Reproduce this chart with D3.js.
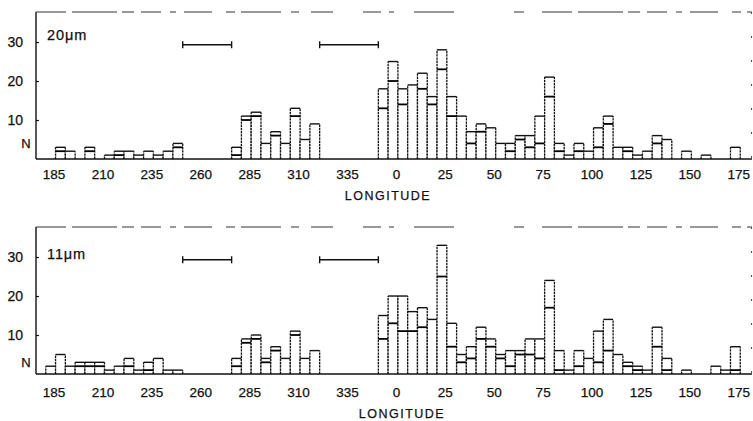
<!DOCTYPE html>
<html><head><meta charset="utf-8">
<script src="https://cdn.jsdelivr.net/npm/d3@7/dist/d3.min.js"></script>
<style>
html,body{margin:0;padding:0;background:#fff;}
svg{display:block;}
text{font-family:"Liberation Sans",Arial,sans-serif;fill:#111;stroke:#111;stroke-width:0.25px;}
</style></head>
<body>
<svg id="chart" width="753" height="421"></svg>
<script>
// 5-degree longitude bins, starting at 180 and wrapping through 360/0 to 175
const binStartLon = d3.range(72).map(j => (180 + 5 * j) % 360);
const xTickLabels = ["185","210","235","260","285","310","335","0","25","50","75","100","125","150","175"];
const yTicks = [10, 20, 30];

// 20 micron panel: total count (outer box) and lower level (solid inner line)
const total20 = [0,3,2,0,3,0,1,2,2,1,2,1,2,4,0,0,0,0,0,3,11,12,4,7,4,13,5,9,0,0,0,0,0,0,
  18,25,18,19,22,16,28,16,11,7,9,8,4,4,6,6,11,21,4,1,4,2,8,11,3,3,1,2,6,5,0,2,0,1,0,0,3,0];
const lower20 = [0,2,2,0,2,0,1,1,2,1,2,1,2,3,0,0,0,0,0,1,10,11,4,6,4,11,5,9,0,0,0,0,0,0,
  13,20,14,19,18,14,23,11,11,4,7,8,4,2,5,3,4,16,2,1,2,2,3,9,3,2,1,2,4,5,0,2,0,1,0,0,3,0];

// 11 micron panel
const total11 = [2,5,2,3,3,3,1,2,4,1,3,4,1,1,0,0,0,0,0,4,9,10,4,7,4,11,4,6,0,0,0,0,0,0,
  15,20,20,16,17,14,33,13,5,7,12,9,5,6,6,9,9,24,6,1,6,4,11,14,5,3,2,1,12,4,0,1,0,0,2,1,7,0];
const lower11 = [2,5,2,2,2,2,1,2,2,1,1,4,1,1,0,0,0,0,0,2,8,9,3,6,4,10,4,6,0,0,0,0,0,0,
  9,13,11,11,12,14,25,7,3,4,9,7,4,2,5,5,4,17,1,1,2,4,3,6,5,2,1,1,7,1,0,1,0,0,2,1,1,0];

// longitude ranges marked with horizontal bars (no coverage)
const gapRanges = [[250, 275], [320, 350]];
const gapLevel = 29.3;

const svg = d3.select("#chart");
const toT = lon => ((lon - 185) % 360 + 360) % 360; // offset from 185
const binT = j => 5 * j - 5;

const x = d3.scaleLinear().domain([-10, 356]).range([36, 752]);

const panels = [
  {label: "20\u03bcm", total: total20, lower: lower20, y0: 159, yTop: 12, labelY: 40, nDy: 16, tickPad: 10, titleX: 388, titleY: 200},
  {label: "11\u03bcm", total: total11, lower: lower11, y0: 374, yTop: 227, labelY: 259, nDy: 12, tickPad: 13, titleX: 402, titleY: 418}
];

panels.forEach(p => {
  const y = d3.scaleLinear().domain([0, 37.7]).range([p.y0, p.yTop]);
  const g = svg.append("g");

  // bars
  const bars = g.append("g");
  p.total.forEach((tot, j) => {
    if (tot <= 0) return;
    const x0 = x(binT(j)), x1 = x(binT(j) + 5);
    const low = p.lower[j];
    const bb = bars.append("g");
    bb.append("rect").attr("x", x0).attr("y", y(tot)).attr("width", x1 - x0).attr("height", y(0) - y(tot))
      .attr("fill", "#fff");
    [x0, x1].forEach(xx => {
      bb.append("line").attr("x1", xx).attr("x2", xx).attr("y1", y(0)).attr("y2", y(tot))
        .attr("stroke", "#111").attr("stroke-width", 1.3).attr("stroke-dasharray", "2.4,0.8");
    });
    bb.append("line").attr("x1", x0).attr("x2", x1).attr("y1", y(tot)).attr("y2", y(tot))
      .attr("stroke", "#111").attr("stroke-width", 1.4);
    if (low > 0 && low < tot) {
      bb.append("line").attr("x1", x0).attr("x2", x1).attr("y1", y(low)).attr("y2", y(low))
        .attr("stroke", "#000").attr("stroke-width", 1.8);
    }
  });

  // frame
  g.append("line").attr("x1", 36).attr("x2", 36).attr("y1", p.yTop).attr("y2", p.y0)
    .attr("stroke", "#111").attr("stroke-width", 1.4);
  g.append("line").attr("x1", 36).attr("x2", 752).attr("y1", p.yTop).attr("y2", p.yTop)
    .attr("stroke", "#333").attr("stroke-width", 1.2)
    .attr("stroke-dasharray", "30,6,45,5,12,7,20,9,6,8,28,14,9,6,40,10,8,12,22,30,18,8,5,20,40,60,10,18");
  g.append("line").attr("x1", 751.5).attr("x2", 751.5).attr("y1", p.yTop).attr("y2", p.y0)
    .attr("stroke", "#555").attr("stroke-width", 1.1).attr("stroke-dasharray", "2,22");
  g.append("line").attr("x1", 36).attr("x2", 752).attr("y1", p.y0).attr("y2", p.y0)
    .attr("stroke", "#111").attr("stroke-width", 1.7);

  // y axis
  const ya = g.append("g").attr("transform", "translate(36,0)")
    .call(d3.axisLeft(y).tickValues(yTicks).tickSizeInner(-3).tickSizeOuter(0).tickPadding(13).tickFormat(d3.format("d")));
  ya.select(".domain").remove();
  ya.selectAll("line").attr("stroke", "#111").attr("stroke-width", 1.2);
  ya.selectAll("text").attr("font-size", 14).attr("font-family", "Liberation Sans, Arial, sans-serif").attr("fill", "#111");
  g.append("text").attr("x", 26).attr("y", p.y0 - p.nDy).attr("dy", "0.35em").attr("text-anchor", "middle")
    .attr("font-size", 13).text("N");

  // x axis
  const xa = g.append("g").attr("transform", `translate(0,${p.y0})`)
    .call(d3.axisBottom(x).tickValues(xTickLabels.map(s => toT(+s))).tickSize(0).tickPadding(p.tickPad)
      .tickFormat((d, i) => xTickLabels[i]));
  xa.select(".domain").remove();
  xa.selectAll("text").attr("font-size", 13.5).attr("font-family", "Liberation Sans, Arial, sans-serif")
    .attr("fill", "#111").attr("dx", "-2");

  g.append("text").attr("x", p.titleX).attr("y", p.titleY).attr("text-anchor", "middle")
    .attr("font-size", 12.5).attr("letter-spacing", 1.5).text("LONGITUDE");

  // panel label
  g.append("text").attr("x", 47).attr("y", p.labelY).attr("font-size", 14.5).attr("letter-spacing", 0.9).text(p.label);

  // gap range markers
  gapRanges.forEach(r => {
    const a = x(toT(r[0])), b = x(toT(r[1]) === 0 ? 360 : toT(r[1]));
    const yy = y(gapLevel);
    g.append("line").attr("x1", a).attr("x2", b).attr("y1", yy).attr("y2", yy).attr("stroke", "#111").attr("stroke-width", 1.4);
    [a, b].forEach(xx => g.append("line").attr("x1", xx).attr("x2", xx).attr("y1", yy - 3.5).attr("y2", yy + 3.5)
      .attr("stroke", "#111").attr("stroke-width", 1.4));
  });
});
</script>
</body></html>
